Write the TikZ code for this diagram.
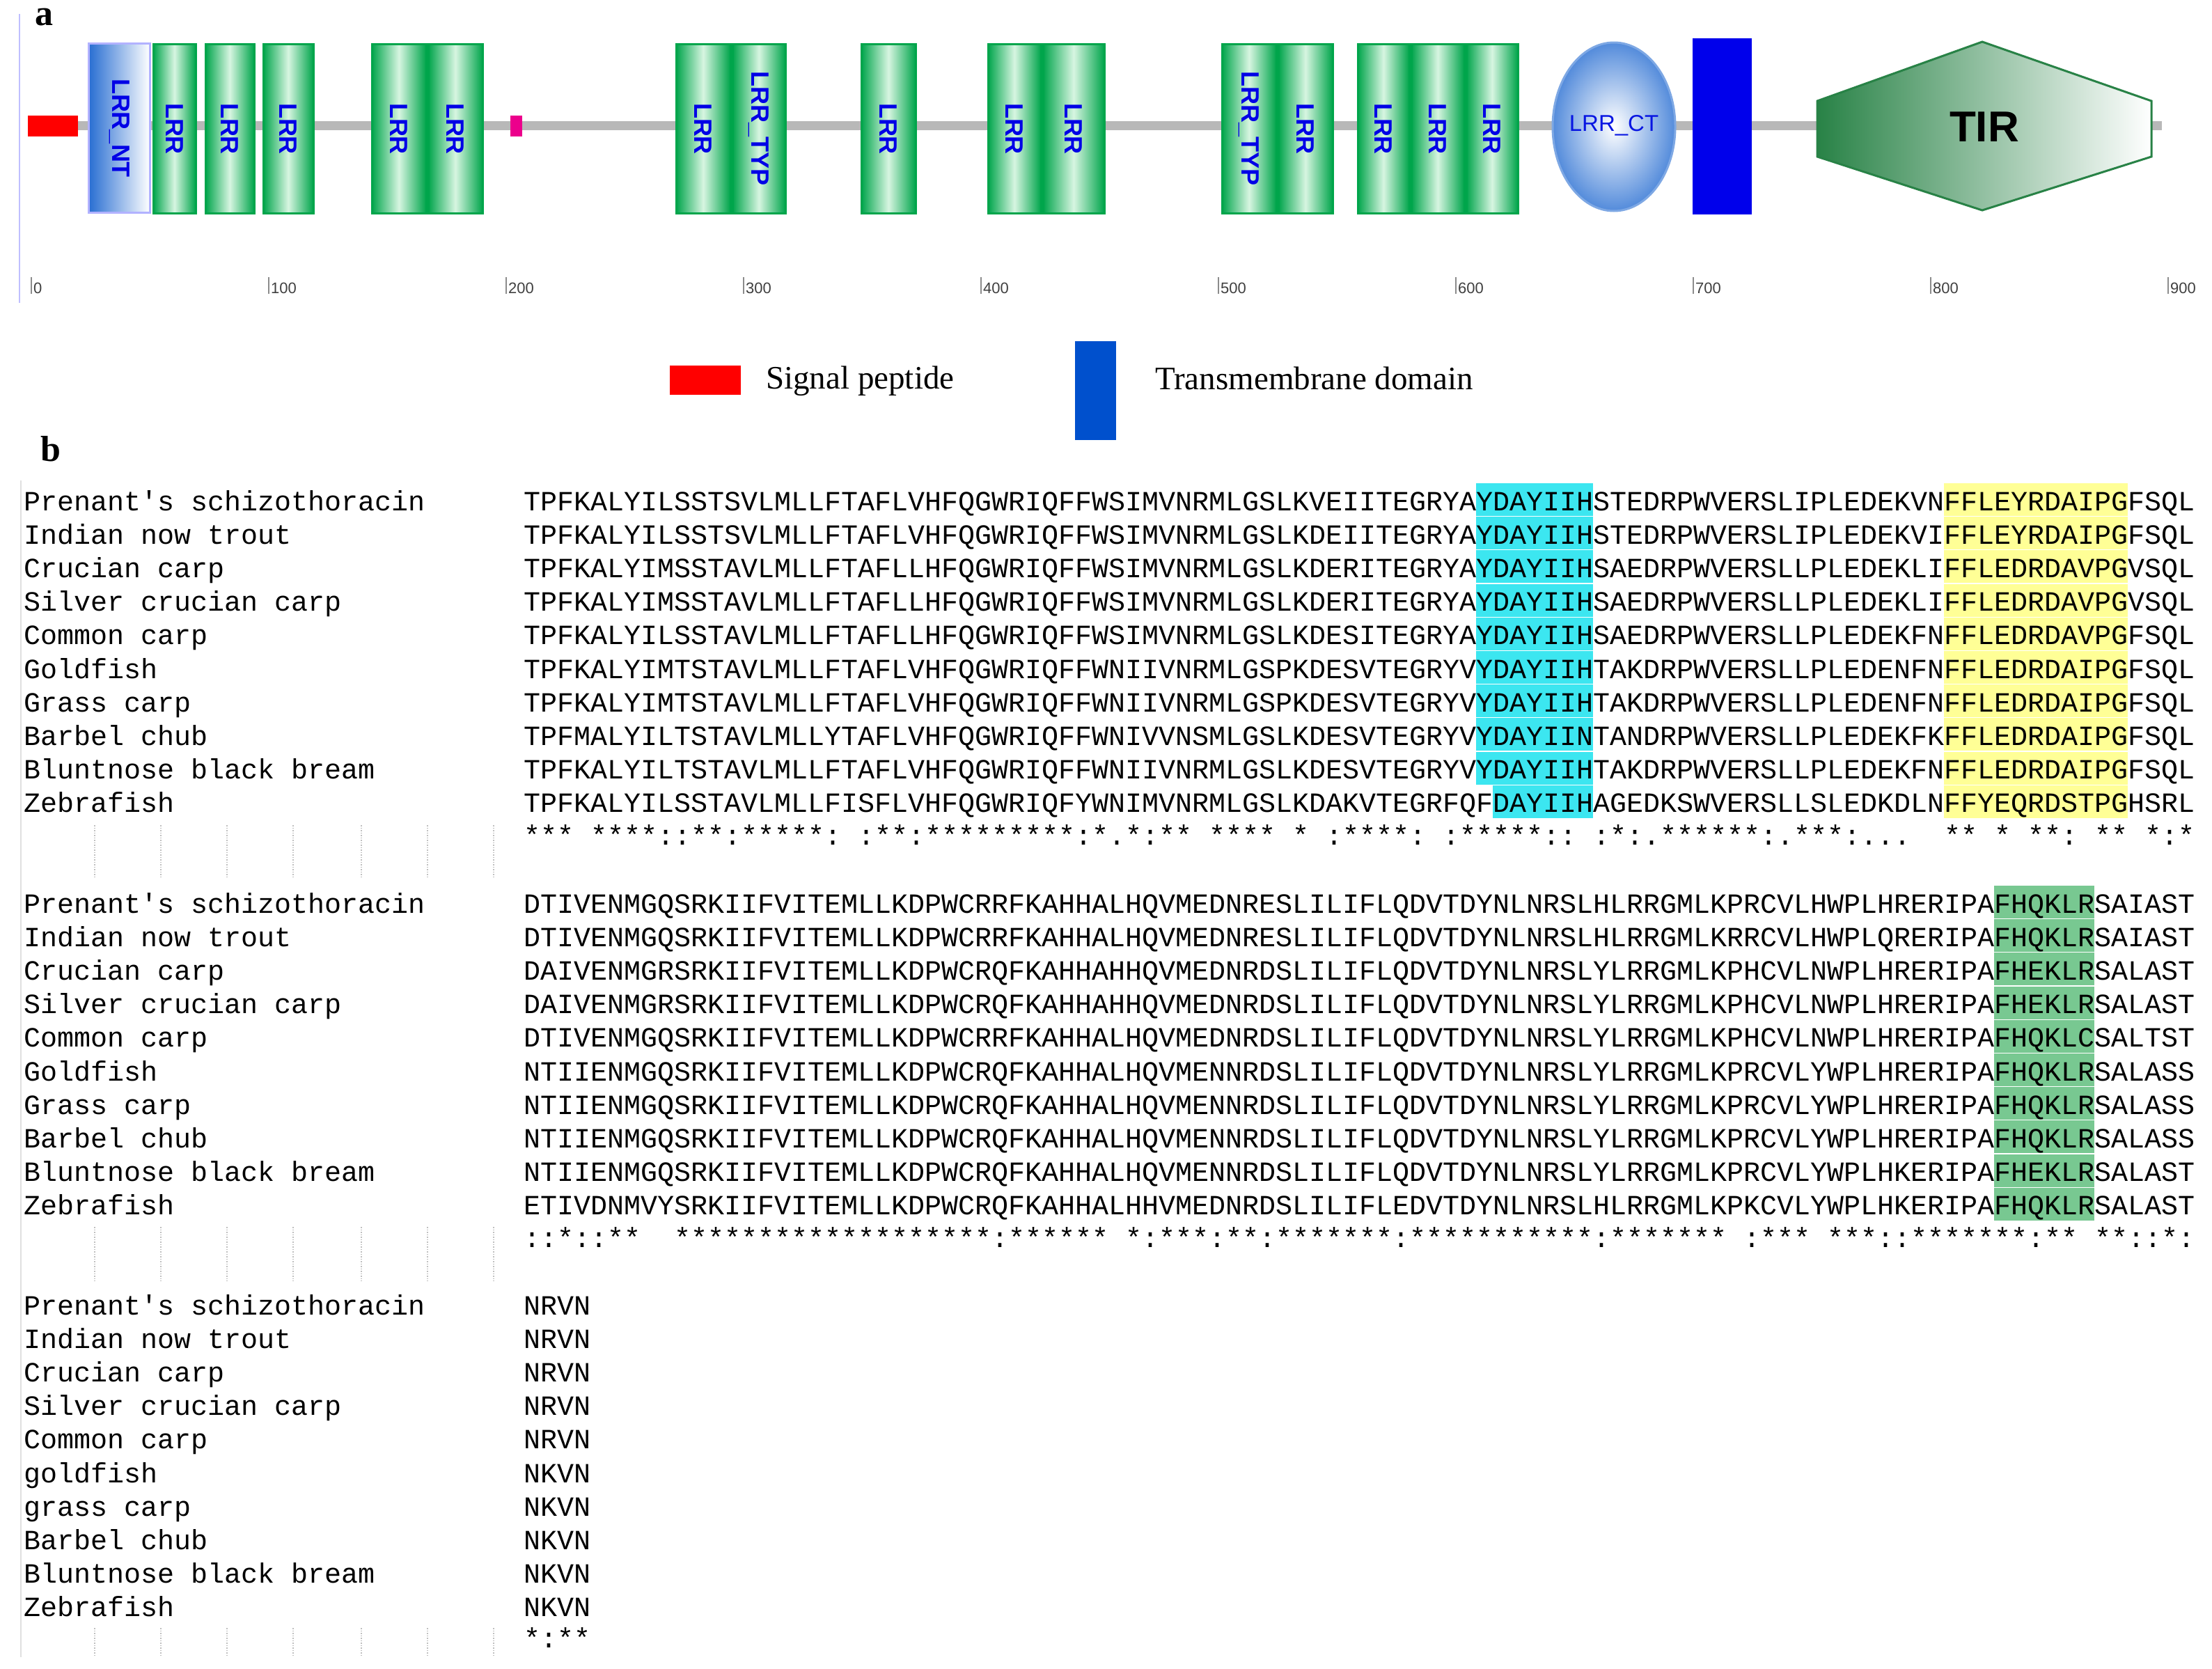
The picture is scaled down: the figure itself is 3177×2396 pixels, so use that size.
\documentclass[tikz,border=0pt]{standalone}
\usepackage{fontspec}
\setmainfont{Liberation Serif}
\newfontfamily\seqf{Liberation Mono}
\newfontfamily\sansf{Liberation Sans}
\definecolor{lrrg}{RGB}{0,165,75}
\definecolor{lrrl}{RGB}{215,245,225}
\definecolor{lrrb}{RGB}{0,0,230}
\definecolor{ntblue}{RGB}{40,110,210}
\definecolor{tirg}{RGB}{40,130,70}
\definecolor{hcyan}{RGB}{60,230,240}
\definecolor{hyel}{RGB}{255,255,150}
\definecolor{hgrn}{RGB}{120,200,145}
\definecolor{tmblue}{RGB}{0,0,235}
\definecolor{legblue}{RGB}{0,80,205}
\begin{document}
\begin{tikzpicture}[x=1pt,y=-1pt,
  lrrbox/.style={draw=lrrg,line width=3pt,left color=lrrg,right color=lrrg,middle color=lrrl,minimum height=243pt,inner sep=0pt},
  lrrlab/.style={rotate=-90,text=lrrb,font=\sansf\bfseries\fontsize{36}{36}\selectfont},
  seqtxt/.style={anchor=base west,inner sep=0pt,font=\seqf\fontsize{40}{40}\selectfont},
  ticklab/.style={anchor=north west,inner sep=0pt,font=\sansf\fontsize{22}{22}\selectfont,text=black!75},
  leg/.style={anchor=west,inner sep=0pt,font=\fontsize{47}{47}\selectfont}]
\useasboundingbox (0,0) rectangle (3177,2396);
\fill[white] (0,0) rectangle (3177,2396);
% panel a
\draw[blue!25,line width=2pt] (28,20) -- (28,435);
\node[anchor=north west,inner sep=0pt,font=\bfseries\fontsize{52}{52}\selectfont] (la) at (50,12) {a};
\coordinate (axs) at (40,180); \coordinate (axe) at (3105,180);
\draw[black!28,line width=13pt] (axs) -- (axe);
\foreach \v [count=\k from 0] in {0,100,200,300,400,500,600,700,800,900}{
  \coordinate (t\k) at ({45+341*\k},398);
  \draw[black!45,line width=1.5pt] (t\k) -- ++(0,24);
  \node[ticklab] (tl\k) at ({48+341*\k},406) {\v};
}
\fill[red] (40,166) rectangle (112,196);
\node[draw=blue!30,line width=3pt,left color=ntblue,right color=white,minimum width=88pt,minimum height=243pt,inner sep=0pt,anchor=north west] (nt) at (126,61) {};
\node[lrrlab] at (nt.center) {LRR\_NT};
\foreach \a/\b/\t [count=\i] in {217/281/LRR,292/365/LRR,375/450/LRR,531/612/LRR,612/693/LRR,968/1049/LRR,1049/1128/LRR\_TYP,1234/1315/LRR,1416/1495/LRR,1495/1586/LRR,1752/1833/LRR\_TYP,1833/1914/LRR,1947/2024/LRR,2024/2103/LRR,2103/2180/LRR}{
  \node[lrrbox,minimum width={\b-\a-3},anchor=north west] (g\i) at (\a+1.5,62) {};
  \node[lrrlab] (gl\i) at (g\i.center) {\t};
}
\fill[magenta] (733,166) rectangle (750,196);
\shade[inner color=white,outer color=ntblue!80] (2318,182) ellipse (88 and 121);
\draw[ntblue!60,line width=3pt] (2318,182) ellipse (88 and 121);
\node[text=lrrb!80!ntblue,font=\sansf\fontsize{33}{33}\selectfont,inner sep=0pt] (ct) at (2318,180) {LRR\_CT};
\fill[tmblue] (2431,55) rectangle (2516,308);
\shade[left color=tirg,right color=white,draw=tirg,line width=3pt] (2610,145) -- (2847,60) -- (3090,145) -- (3090,225) -- (2847,302) -- (2610,225) -- cycle;
\node[font=\sansf\bfseries\fontsize{62}{62}\selectfont,inner sep=0pt] (tir) at (2850,182) {TIR};
% legend
\fill[red] (962,525) rectangle (1064,567);
\node[leg] (l1) at (1100,547) {Signal peptide};
\fill[legblue] (1544,490) rectangle (1603,632);
\node[leg] (l2) at (1659,543) {Transmembrane domain};
% panel b
\node[anchor=north west,inner sep=0pt,font=\bfseries\fontsize{52}{52}\selectfont] (lb) at (58,626) {b};
\draw[black!12,line width=1.5pt] (30,690) -- (30,2380);
% highlights
\foreach \r in {0,...,8}{ \fill[hcyan] ({752+24*57},{719+48.2*\r-25}) rectangle ({752+24*64},{719+48.2*\r+22}); }
\fill[hcyan] ({752+24*58},{719+48.2*9-25}) rectangle ({752+24*64},{719+48.2*9+22});
\foreach \r in {0,...,9}{ \fill[hyel] ({752+24*85},{719+48.2*\r-25}) rectangle ({752+24*96},{719+48.2*\r+22});
  \fill[hgrn] ({752+24*88},{1297+48.2*\r-25}) rectangle ({752+24*94},{1297+48.2*\r+22}); }
% block 1
\foreach \n/\s [count=\i from 0] in {
Prenant's~schizothoracin/TPFKALYILSSTSVLMLLFTAFLVHFQGWRIQFFWSIMVNRMLGSLKVEIITEGRYAYDAYIIHSTEDRPWVERSLIPLEDEKVNFFLEYRDAIPGFSQL,
Indian~now~trout/TPFKALYILSSTSVLMLLFTAFLVHFQGWRIQFFWSIMVNRMLGSLKDEIITEGRYAYDAYIIHSTEDRPWVERSLIPLEDEKVIFFLEYRDAIPGFSQL,
Crucian~carp/TPFKALYIMSSTAVLMLLFTAFLLHFQGWRIQFFWSIMVNRMLGSLKDERITEGRYAYDAYIIHSAEDRPWVERSLLPLEDEKLIFFLEDRDAVPGVSQL,
Silver~crucian~carp/TPFKALYIMSSTAVLMLLFTAFLLHFQGWRIQFFWSIMVNRMLGSLKDERITEGRYAYDAYIIHSAEDRPWVERSLLPLEDEKLIFFLEDRDAVPGVSQL,
Common~carp/TPFKALYILSSTAVLMLLFTAFLLHFQGWRIQFFWSIMVNRMLGSLKDESITEGRYAYDAYIIHSAEDRPWVERSLLPLEDEKFNFFLEDRDAVPGFSQL,
Goldfish/TPFKALYIMTSTAVLMLLFTAFLVHFQGWRIQFFWNIIVNRMLGSPKDESVTEGRYVYDAYIIHTAKDRPWVERSLLPLEDENFNFFLEDRDAIPGFSQL,
Grass~carp/TPFKALYIMTSTAVLMLLFTAFLVHFQGWRIQFFWNIIVNRMLGSPKDESVTEGRYVYDAYIIHTAKDRPWVERSLLPLEDENFNFFLEDRDAIPGFSQL,
Barbel~chub/TPFMALYILTSTAVLMLLYTAFLVHFQGWRIQFFWNIVVNSMLGSLKDESVTEGRYVYDAYIINTANDRPWVERSLLPLEDEKFKFFLEDRDAIPGFSQL,
Bluntnose~black~bream/TPFKALYILTSTAVLMLLFTAFLVHFQGWRIQFFWNIIVNRMLGSLKDESVTEGRYVYDAYIIHTAKDRPWVERSLLPLEDEKFNFFLEDRDAIPGFSQL,
Zebrafish/TPFKALYILSSTAVLMLLFISFLVHFQGWRIQFYWNIMVNRMLGSLKDAKVTEGRFQFDAYIIHAGEDKSWVERSLLSLEDKDLNFFYEQRDSTPGHSRL}{
  \node[seqtxt] (na\i) at (34,{719+48.2*\i+14}) {\n};
  \node[seqtxt] (sa\i) at (752,{719+48.2*\i+14}) {\s};
}
\node[seqtxt] (ca) at (752,1213) {***~****::**:*****:~:**:*********:*.*:**~****~*~:****:~:*****::~:*:.******:.***:...~~**~*~**:~**~*:*};
% block 2
\foreach \n/\s [count=\i from 0] in {
Prenant's~schizothoracin/DTIVENMGQSRKIIFVITEMLLKDPWCRRFKAHHALHQVMEDNRESLILIFLQDVTDYNLNRSLHLRRGMLKPRCVLHWPLHRERIPAFHQKLRSAIAST,
Indian~now~trout/DTIVENMGQSRKIIFVITEMLLKDPWCRRFKAHHALHQVMEDNRESLILIFLQDVTDYNLNRSLHLRRGMLKRRCVLHWPLQRERIPAFHQKLRSAIAST,
Crucian~carp/DAIVENMGRSRKIIFVITEMLLKDPWCRQFKAHHAHHQVMEDNRDSLILIFLQDVTDYNLNRSLYLRRGMLKPHCVLNWPLHRERIPAFHEKLRSALAST,
Silver~crucian~carp/DAIVENMGRSRKIIFVITEMLLKDPWCRQFKAHHAHHQVMEDNRDSLILIFLQDVTDYNLNRSLYLRRGMLKPHCVLNWPLHRERIPAFHEKLRSALAST,
Common~carp/DTIVENMGQSRKIIFVITEMLLKDPWCRRFKAHHALHQVMEDNRDSLILIFLQDVTDYNLNRSLYLRRGMLKPHCVLNWPLHRERIPAFHQKLCSALTST,
Goldfish/NTIIENMGQSRKIIFVITEMLLKDPWCRQFKAHHALHQVMENNRDSLILIFLQDVTDYNLNRSLYLRRGMLKPRCVLYWPLHRERIPAFHQKLRSALASS,
Grass~carp/NTIIENMGQSRKIIFVITEMLLKDPWCRQFKAHHALHQVMENNRDSLILIFLQDVTDYNLNRSLYLRRGMLKPRCVLYWPLHRERIPAFHQKLRSALASS,
Barbel~chub/NTIIENMGQSRKIIFVITEMLLKDPWCRQFKAHHALHQVMENNRDSLILIFLQDVTDYNLNRSLYLRRGMLKPRCVLYWPLHRERIPAFHQKLRSALASS,
Bluntnose~black~bream/NTIIENMGQSRKIIFVITEMLLKDPWCRQFKAHHALHQVMENNRDSLILIFLQDVTDYNLNRSLYLRRGMLKPRCVLYWPLHKERIPAFHEKLRSALAST,
Zebrafish/ETIVDNMVYSRKIIFVITEMLLKDPWCRQFKAHHALHHVMEDNRDSLILIFLEDVTDYNLNRSLHLRRGMLKPKCVLYWPLHKERIPAFHQKLRSALAST}{
  \node[seqtxt] (nb\i) at (34,{1297+48.2*\i+14}) {\n};
  \node[seqtxt] (sb\i) at (752,{1297+48.2*\i+14}) {\s};
}
\node[seqtxt] (cb) at (752,1791) {::*::**~~*******************:******~*:***:**:*******:***********:*******~:***~***::*******:**~**::*:};
% block 3
\foreach \n/\s [count=\i from 0] in {
Prenant's~schizothoracin/NRVN, Indian~now~trout/NRVN, Crucian~carp/NRVN, Silver~crucian~carp/NRVN, Common~carp/NRVN,
goldfish/NKVN, grass~carp/NKVN, Barbel~chub/NKVN, Bluntnose~black~bream/NKVN, Zebrafish/NKVN}{
  \node[seqtxt] (nc\i) at (34,{1874+48.2*\i+14}) {\n};
  \node[seqtxt] (sc\i) at (752,{1874+48.2*\i+14}) {\s};
}
\node[seqtxt] (cc) at (752,2366) {*:**};
% dotted guides
\foreach \x in {136,231,326,421,519,614,709}{
  \draw[black!25,dotted,line width=1.5pt] (\x,1185) -- (\x,1262);
  \draw[black!25,dotted,line width=1.5pt] (\x,1762) -- (\x,1840);
  \draw[black!25,dotted,line width=1.5pt] (\x,2338) -- (\x,2378);
}
\end{tikzpicture}
\end{document}
